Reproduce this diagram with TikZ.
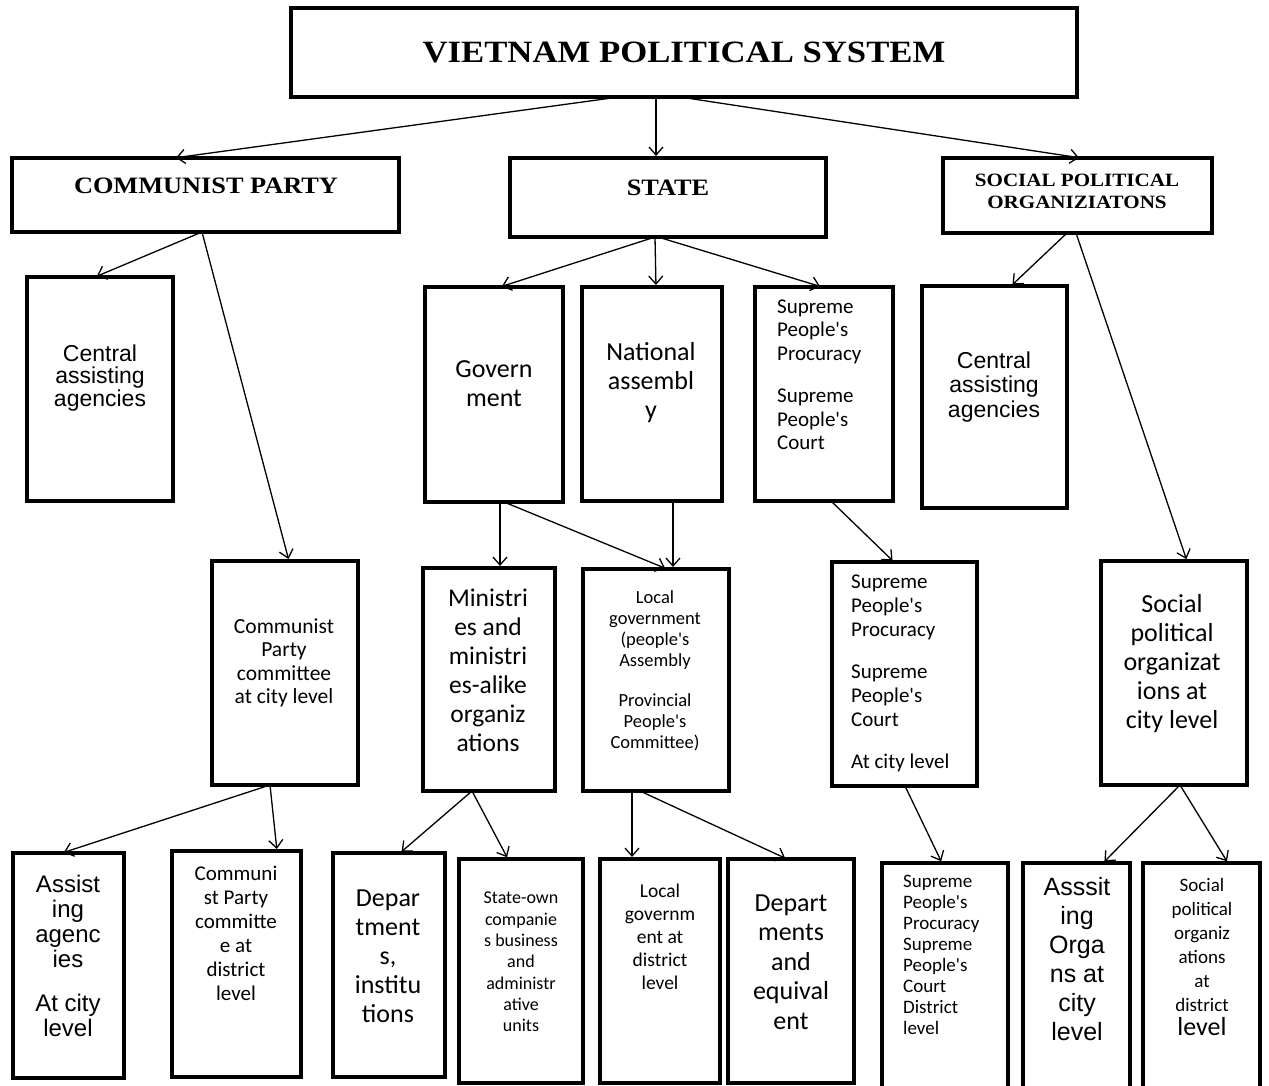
\documentclass[tikz,border=0pt]{standalone}
\usepackage{fontspec}
\usetikzlibrary{arrows.meta}
\newfontfamily\calfont{Carlito}
\newfontfamily\arifont{Liberation Sans}
\newfontfamily\timfont{Liberation Serif}
\newcommand\fs[2]{\fontsize{#1}{#2}\selectfont}
% box by its corners: name, x1, y1, x2, y2
\newcommand\bx[5]{\node[box, minimum width={(#4)-(#2)}, minimum height={(#5)-(#3)}] (#1) at (#2,#3) {};}
\newcommand\hd[1]{\scalebox{1.12}[1]{#1}}
\begin{document}
\begin{tikzpicture}[x=1pt, y=-1pt,
  box/.style={draw, line width=3.6pt, inner sep=0pt, outer sep=0pt, anchor=north west},
  lbl/.style={align=center, inner sep=0pt},
  lblL/.style={align=left, inner sep=0pt, anchor=west},
  arr/.style={-{Straight Barb[length=8pt, width=14pt, line width=1.3pt]}, line width=1.3pt, shorten >=2pt}]
\useasboundingbox (0,0) rectangle (1269,1086);

% boxes
\bx{top}{291}{8}{1077}{97}
\bx{cp}{12}{158}{399}{232}
\bx{state}{510}{158}{826}{237}
\bx{spo}{943}{158}{1212}{233}

\bx{lca}{27}{277}{173}{501}
\bx{gov}{425}{287}{563}{502}
\bx{nat}{582}{287}{722}{501}
\bx{sup}{755}{287}{893}{501}
\bx{rca}{922}{286}{1067}{508}

\bx{cpc}{212}{561}{358}{785}
\bx{min}{423}{568}{555}{791}
\bx{loc}{583}{569}{729}{791}
\bx{supc}{832}{562}{977}{786}
\bx{spc}{1101}{561}{1247}{785}

\bx{asg}{13}{853}{124}{1078}
\bx{cpd}{172}{851}{301}{1077}
\bx{dep}{333}{853}{445}{1077}
\bx{so}{459}{859}{583}{1083}
\bx{lgd}{600}{859}{720}{1083}
\bx{deq}{728}{859}{854}{1083}
\bx{supd}{882}{863}{1008}{1092}
\bx{aso}{1023}{863}{1130}{1092}
\bx{spd}{1143}{863}{1260}{1092}

% headings
\node[lbl, font=\timfont\bfseries\fs{31}{36}] (topt) at (684,52) {\hd{VIETNAM POLITICAL SYSTEM}};
\node[lbl, font=\timfont\bfseries\fs{23.5}{28}] (cpt) at (206,186) {\hd{COMMUNIST PARTY}};
\node[lbl, font=\timfont\bfseries\fs{23.5}{28}] (statet) at (668,188) {\hd{STATE}};
\node[lbl, font=\timfont\bfseries\fs{18.8}{22}] (spot) at (1077,191) {\hd{SOCIAL POLITICAL}\\\hd{ORGANIZIATONS}};

% second row
\node[lbl, font=\arifont\fs{23}{22.5}] (lcat) at (100,378) {Central\\assisting\\agencies};
\node[lbl, font=\calfont\fs{26}{29}] (govt) at (494,384) {Govern\\ment};
\node[lbl, font=\calfont\fs{26}{29}] (natt) at (651,383) {National\\assembl\\y};
\node[lblL, font=\calfont\fs{21}{23.5}] (supt) at (777,375) {Supreme\\People's\\Procuracy\\[19pt]Supreme\\People's\\Court};
\node[lbl, font=\arifont\fs{23}{24.5}] (rcat) at (994,387) {Central\\assisting\\agencies};

% third row
\node[lbl, font=\calfont\fs{21.5}{23.5}] (cpct) at (284,663) {Communist\\Party\\committee\\at city level};
\node[lbl, font=\calfont\fs{25.5}{29}] (mint) at (488,670) {Ministri\\es and\\ministri\\es-alike\\organiz\\ations};
\node[lbl, font=\calfont\fs{18.5}{21}] (loct) at (655,671) {Local\\government\\(people's\\Assembly\\[19pt]Provincial\\People's\\Committee)};
\node[lblL, font=\calfont\fs{21}{24}] (supct) at (851,673) {Supreme\\People's\\Procuracy\\[18pt]Supreme\\People's\\Court\\[18pt]At city level};
\node[lbl, font=\calfont\fs{26}{29}] (spct) at (1172,664) {Social\\political\\organizat\\ions at\\city level};

% bottom row
\node[lbl, font=\arifont\fs{24}{25}] (asgt) at (68,956) {Assist\\ing\\agenc\\ies\\[19pt]At city\\level};
\node[lbl, font=\calfont\fs{21}{24}] (cpdt) at (236,933) {Communi\\st Party\\committe\\e at\\district\\level};
\node[lbl, font=\calfont\fs{26}{29}] (dept) at (388,956) {Depar\\tment\\s,\\institu\\tions};
\node[lbl, font=\calfont\fs{18}{21.3}] (sot) at (521,962) {State-own\\companie\\s business\\and\\administr\\ative\\units};
\node[lbl, font=\calfont\fs{19.5}{23}] (lgdt) at (660,937) {Local\\governm\\ent at\\district\\level};
\node[lbl, font=\calfont\fs{26}{29.5}] (deqt) at (791,962) {Depart\\ments\\and\\equival\\ent};
\node[lblL, font=\calfont\fs{19}{21}] (supdt) at (903,955) {Supreme\\People's\\Procuracy\\Supreme\\People's\\Court\\District\\level};
\node[lbl, font=\arifont\fs{25}{29}] (asot) at (1077,959) {Asssit\\ing\\Orga\\ns at\\city\\level};
\node[lbl, font=\calfont\fs{19}{24}] (spdt) at (1202,957) {Social\\political\\organiz\\ations\\at\\district\\{\fs{26}{26}level}};

% connectors
\draw[arr] ([xshift=-65pt]top.south) -- ([xshift=-31.5pt]cp.north);
\draw[arr] ([xshift=-28pt]top.south) -- ([xshift=-12pt]state.north);
\draw[arr] ([xshift=-4pt]top.south) -- ([xshift=3.5pt]spo.north);

\draw[arr] ([xshift=-3.5pt]cp.south) -- ([xshift=-5pt]lca.north);
\draw[arr] ([xshift=-3.5pt]cp.south) -- ([xshift=4pt]cpc.north);

\draw[arr] ([xshift=-13pt]state.south) -- ([xshift=6pt]gov.north);
\draw[arr] ([xshift=-13pt]state.south) -- ([xshift=4pt]nat.north);
\draw[arr] ([xshift=-10pt]state.south) -- ([xshift=-2pt]sup.north);

\draw[arr] ([xshift=-10.5pt]spo.south) -- ([xshift=16.5pt]rca.north);
\draw[arr] ([xshift=-1.5pt]spo.south) -- ([xshift=13pt]spc.north);

\draw[arr] ([xshift=6pt]gov.south) -- ([xshift=11pt]min.north);
\draw[arr] ([xshift=10pt]gov.south) -- ([xshift=11pt]loc.north);
\draw[arr] ([xshift=21pt]nat.south) -- ([xshift=17pt]loc.north);
\draw[arr] ([xshift=7pt]sup.south) -- ([xshift=-10.5pt]supc.north);

\draw[arr] ([xshift=-15pt]cpc.south) -- ([xshift=-6.5pt]asg.north);
\draw[arr] ([xshift=-15pt]cpc.south) -- ([xshift=40.5pt]cpd.north);
\draw[arr] ([xshift=-17pt]min.south) -- ([xshift=11pt]dep.north);
\draw[arr] ([xshift=-17pt]min.south) -- ([xshift=-13pt]so.north);
\draw[arr] ([xshift=-24pt]loc.south) -- ([xshift=-28pt]lgd.north);
\draw[arr] ([xshift=-16pt]loc.south) -- ([xshift=-4pt]deq.north);
\draw[arr] ([xshift=0.5pt]supc.south) -- ([xshift=-3pt]supd.north);
\draw[arr] ([xshift=6pt]spc.south) -- ([xshift=26.5pt]aso.north);
\draw[arr] ([xshift=6pt]spc.south) -- ([xshift=26.5pt]spd.north);
\end{tikzpicture}
\end{document}
